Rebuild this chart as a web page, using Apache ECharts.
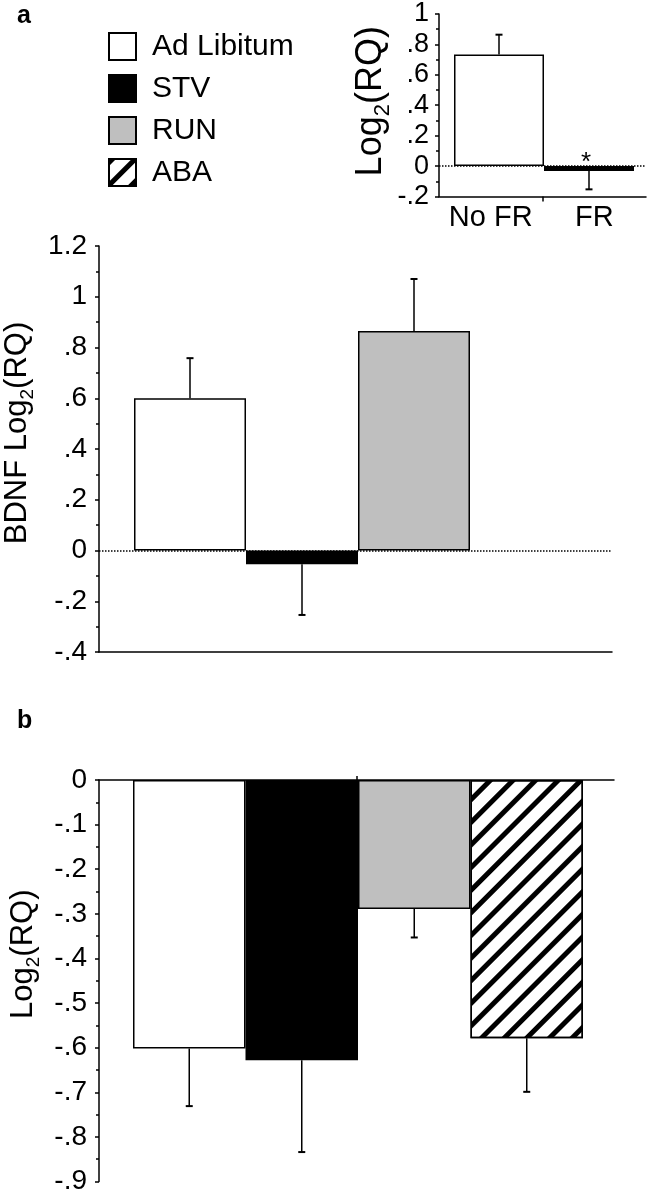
<!DOCTYPE html>
<html>
<head>
<meta charset="utf-8">
<script src="https://cdn.jsdelivr.net/npm/echarts@6/dist/echarts.min.js"></script>
<style>html,body{margin:0;padding:0;background:#fff;}#c{width:655px;height:1199px;}</style>
</head>
<body>
<div id="c"></div>
<script>
// ---------- data ----------
const categories = ['Ad Libitum', 'STV', 'RUN', 'ABA'];
const bdnfMean = [0.60, -0.054, 0.865, null];
const bdnfErr = [0.158, 0.20, 0.205, null];
const panelBMean = [-0.602, -0.628, -0.289, -0.579];
const panelBErr = [0.129, 0.206, 0.064, 0.12];
const insetCats = ['No FR', 'FR'];
const insetMean = [0.733, -0.032];
const insetErr = [0.131, 0.121];
const insetSig = ['', '*'];
const mainAxis = { min: -0.4, max: 1.2, interval: 0.2 };
const insetAxis = { min: -0.2, max: 1.0, interval: 0.2 };
const panelBAxis = { min: -0.9, max: 0, interval: 0.1 };

// ---------- styles ----------
const FONT = 'Liberation Sans, Arial, sans-serif';
const barStyles = {
  'Ad Libitum': { color: '#ffffff', borderColor: '#000', borderWidth: 1.5 },
  'STV': { color: '#000000', borderColor: '#000', borderWidth: 1.5 },
  'RUN': { color: '#bfbfbf', borderColor: '#000', borderWidth: 1.5 },
  'ABA': { color: '#ffffff', borderColor: '#000', borderWidth: 1.5,
    decal: { symbol: 'rect', symbolSize: 1, dashArrayX: [1, 0], dashArrayY: [5, 11],
      rotation: -Math.PI / 4, color: '#000000' } }
};
function fmt(v) {
  if (Math.abs(v) < 1e-9) return '0';
  const s = String(Math.round(v * 10) / 10);
  return s.replace(/^(-?)0\./, '$1.');
}
const axLine = { show: true, onZero: false, lineStyle: { color: '#000', width: 1.5 } };

function valueY(ax, gridIndex, show, nameCfg, labelSize, minorSplit) {
  const o = {
    type: 'value', gridIndex, min: ax.min, max: ax.max, interval: ax.interval,
    show: show, axisLine: axLine, splitLine: { show: false },
    axisTick: { show: true, length: 4, lineStyle: { color: '#000', width: 1.5 } },
    minorTick: { show: true, splitNumber: minorSplit, length: 3, lineStyle: { color: '#000', width: 1.5 } },
    axisLabel: { formatter: fmt, color: '#000', fontSize: labelSize, fontFamily: FONT, margin: 12 }
  };
  if (nameCfg) Object.assign(o, nameCfg);
  return o;
}
function nameCfg(text, size, gap, shift) {
  return {
    name: text, nameLocation: 'middle', nameRotate: 90, nameGap: gap,
    nameTextStyle: {
      color: '#000', fontSize: size, fontFamily: FONT, lineHeight: size + 9,
      padding: [0, 0, 0, shift],
      rich: { s: { fontSize: Math.round(size * 0.62), fontFamily: FONT, color: '#000',
        lineHeight: Math.round(size * 0.62), verticalAlign: 'bottom' } }
    }
  };
}

function barSeries(means, xi, yi) {
  return categories.map((c, i) => means[i] == null ? null : ({
    type: 'bar', name: c, xAxisIndex: xi, yAxisIndex: yi, z: 3,
    data: categories.map((_, j) => j === i ? means[i] : '-'),
    barWidth: '100%', barGap: '-100%', itemStyle: barStyles[c], silent: true
  })).filter(Boolean);
}
function errSeries(means, errs, xi, yi, sig) {
  const data = means.map((m, i) => m == null ? null : [i, m, errs[i]]).filter(Boolean);
  return {
    type: 'custom', xAxisIndex: xi, yAxisIndex: yi, z: 4, silent: true,
    data, encode: { x: 0, y: 1 },
    renderItem: function (params, api) {
      const i = api.value(0), m = api.value(1), e = api.value(2);
      const end = m >= 0 ? m + e : m - e;
      const p0 = api.coord([i, m]), p1 = api.coord([i, end]);
      const kids = [
        { type: 'line', shape: { x1: p0[0], y1: p0[1], x2: p1[0], y2: p1[1] }, style: { stroke: '#000', lineWidth: 1.5 } },
        { type: 'line', shape: { x1: p1[0] - 3.5, y1: p1[1], x2: p1[0] + 3.5, y2: p1[1] }, style: { stroke: '#000', lineWidth: 2 } }
      ];
      if (sig && sig[params.dataIndex]) {
        const pz = api.coord([i, 0]);
        kids.push({ type: 'text', style: { text: sig[params.dataIndex], x: pz[0] - 3, y: pz[1] - 3,
          align: 'center', verticalAlign: 'middle', fontSize: 26, fontFamily: FONT, fill: '#000' } });
      }
      return { type: 'group', children: kids };
    }
  };
}
function zeroLine(xi, yi) {
  return {
    type: 'line', xAxisIndex: xi, yAxisIndex: yi, data: [], z: 1, silent: true,
    markLine: { silent: true, symbol: ['none', 'none'], label: { show: false },
      lineStyle: { type: 'dotted', color: '#000', width: 1.5 }, data: [{ yAxis: 0 }], animation: false }
  };
}

const grids = [
  { left: 99, top: 246, width: 513, height: 406 },   // 0 panel a axes
  { left: 134, top: 246, width: 448, height: 406 },  // 1 panel a bars
  { left: 439, top: 14, width: 207, height: 182.5 }, // 2 inset axes
  { left: 454, top: 14, width: 180, height: 182.5 }, // 3 inset bars
  { left: 99, top: 780, width: 515, height: 401.5 }, // 4 panel b axes
  { left: 133, top: 780, width: 450, height: 401.5 } // 5 panel b bars
].map(g => Object.assign({ outerBoundsMode: 'none', containLabel: false }, g));

const option = {
  animation: false,
  backgroundColor: '#fff',
  textStyle: { fontFamily: FONT },
  grid: grids,
  legend: {
    data: categories, orient: 'vertical', left: 103, top: 23,
    itemWidth: 27, itemHeight: 27, itemGap: 5, icon: 'rect', selectedMode: false,
    textStyle: { fontSize: 30, color: '#000', fontFamily: FONT, lineHeight: 27, padding: [10, 0, 0, 11] }
  },
  graphic: [
    { type: 'text', x: 17, y: 16, style: { text: 'a', fontSize: 25, fontWeight: 'bold', fontFamily: FONT, fill: '#000', verticalAlign: 'middle' } },
    { type: 'text', x: 17, y: 721, style: { text: 'b', fontSize: 25, fontWeight: 'bold', fontFamily: FONT, fill: '#000', verticalAlign: 'middle' } }
  ],
  xAxis: [
    { type: 'value', gridIndex: 0, min: 0, max: 1, axisLine: axLine, axisTick: { show: false }, axisLabel: { show: false }, splitLine: { show: false } },
    { type: 'category', gridIndex: 1, data: categories, show: false },
    { type: 'value', gridIndex: 2, min: 0, max: 2, axisLine: axLine, splitLine: { show: false },
      axisTick: { show: true, customValues: [1], length: 5, lineStyle: { color: '#000', width: 1.5 } },
      axisLabel: { show: true, customValues: [0.5, 1.5], formatter: v => insetCats[Math.floor(v)], color: '#000', fontSize: 29, fontFamily: FONT, margin: 7 } },
    { type: 'category', gridIndex: 3, data: insetCats, show: false },
    { type: 'value', gridIndex: 4, min: 0, max: 2, position: 'top', axisLine: axLine, splitLine: { show: false },
      axisTick: { show: true, customValues: [1], length: 4, lineStyle: { color: '#000', width: 1.5 } },
      axisLabel: { show: false } },
    { type: 'category', gridIndex: 5, data: categories, show: false }
  ],
  yAxis: [
    valueY(mainAxis, 0, true, nameCfg('BDNF Log{s|2}(RQ)', 31, 45, 32), 28, 2),
    valueY(mainAxis, 1, false, null, 28, 2),
    valueY(insetAxis, 2, true, nameCfg('Log{s|2}(RQ)', 36, 33, 8), 27, 2),
    valueY(insetAxis, 3, false, null, 27, 2),
    valueY(panelBAxis, 4, true, nameCfg('Log{s|2}(RQ)', 31, 49, 53), 28, 2),
    valueY(panelBAxis, 5, false, null, 28, 2)
  ],
  series: [
    zeroLine(0, 0),
    zeroLine(2, 2),
    ...barSeries(bdnfMean, 1, 1),
    errSeries(bdnfMean, bdnfErr, 1, 1),
    {
      type: 'bar', name: 'inset', xAxisIndex: 3, yAxisIndex: 3, z: 3, barWidth: '100%', silent: true,
      data: insetMean.map((v, i) => ({ value: v, itemStyle: i === 0 ? barStyles['Ad Libitum'] : barStyles['STV'] }))
    },
    errSeries(insetMean, insetErr, 3, 3, insetSig),
    ...barSeries(panelBMean, 5, 5),
    errSeries(panelBMean, panelBErr, 5, 5)
  ]
};
option.yAxis[2].axisLabel.margin = 10;
const chart = echarts.init(document.getElementById('c'), null, { renderer: 'canvas' });
chart.setOption(option);
</script>
</body>
</html>
